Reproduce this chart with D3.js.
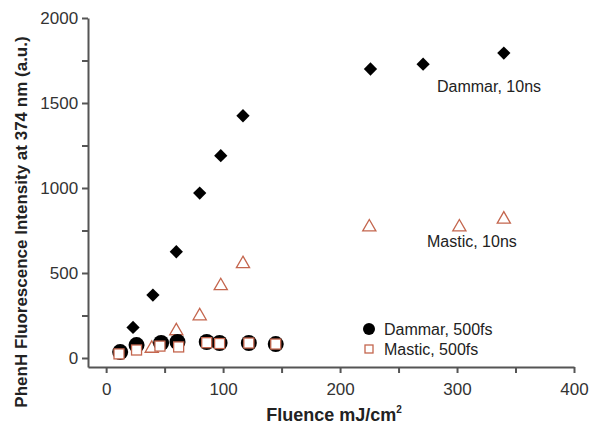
<!DOCTYPE html>
<html>
<head>
<meta charset="utf-8">
<script src="https://cdn.jsdelivr.net/npm/d3@7"></script>
<style>
body { margin: 0; background: #fff; }
text { font-family: "Liberation Sans", Arial, sans-serif; }
</style>
</head>
<body>
<div id="chart"></div>
<script>
// Data (fluence mJ/cm2, intensity a.u.)
const dammar10nsX = [23, 40, 60, 80, 98, 117, 226, 271, 340];
const dammar10nsY = [180, 370, 625, 970, 1190, 1425, 1700, 1728, 1794];
const mastic10nsX = [39, 60, 80, 98, 117, 225, 302, 340];
const mastic10nsY = [62, 165, 253, 430, 560, 776, 776, 822];
const dammar500X = [12, 26, 47, 61, 86, 97, 122, 145];
const dammar500Y = [35, 76, 88, 94, 94, 88, 88, 82];
const mastic500X = [11, 26, 46, 62, 86, 97, 122, 145];
const mastic500Y = [24, 47, 70, 65, 90, 85, 88, 82];
const xTicks = [0, 100, 200, 300, 400];
const yTicks = [0, 500, 1000, 1500, 2000];

const width = 590, height = 425;
const axisColor = "#555";
const redColor = "#c4664e";

const svg = d3.select("#chart")
  .append("svg")
  .attr("width", width)
  .attr("height", height);

const x = d3.scaleLinear().domain([-15.5, 400]).range([88, 574]);
const y = d3.scaleLinear().domain([-53, 2000]).range([367, 18]);

const zip = (xs, ys) => xs.map((v, i) => ({x: v, y: ys[i]}));

// Axes
const xAxis = svg.append("g")
  .attr("transform", `translate(0,${y(-53)})`)
  .call(d3.axisBottom(x).tickValues(d3.range(0, 401, 50)).tickSize(6).tickSizeOuter(0)
    .tickFormat(d => xTicks.includes(d) ? d : ""));
const yAxis = svg.append("g")
  .attr("transform", `translate(${x(-15.5)},0)`)
  .call(d3.axisLeft(y).tickValues(d3.range(0, 2001, 250)).tickSize(6).tickSizeOuter(0)
    .tickFormat(d => yTicks.includes(d) ? d : ""));

[xAxis, yAxis].forEach(g => {
  g.select(".domain").attr("stroke", axisColor).attr("stroke-width", 2);
  g.selectAll(".tick line").attr("stroke", axisColor).attr("stroke-width", 2);
  g.selectAll(".tick text")
    .attr("fill", "#333")
    .style("font-size", "17px")
    .style("font-family", "Liberation Sans, Arial, sans-serif");
});
xAxis.selectAll(".tick text").attr("dy", "1.1em");
yAxis.selectAll(".tick text").attr("dx", "-0.05em");

// Axis titles
svg.append("text")
  .attr("transform", `translate(27,222) rotate(-90)`)
  .attr("text-anchor", "middle")
  .style("font-size", "17px")
  .style("font-weight", "bold")
  .attr("fill", "#222")
  .text("PhenH Fluorescence Intensity at 374 nm (a.u.)");

const xt = svg.append("text")
  .attr("x", 334)
  .attr("y", 421)
  .attr("text-anchor", "middle")
  .style("font-size", "18px")
  .style("font-weight", "bold")
  .attr("fill", "#222");
xt.append("tspan").text("Fluence mJ/cm");
xt.append("tspan").attr("dy", -8).style("font-size", "10px").text("2");

// Markers
const square = d3.symbol().type(d3.symbolSquare).size(88);
const triangle = d3.symbol().type(d3.symbolTriangle).size(75);

svg.append("g").selectAll("path")
  .data(zip(dammar10nsX, dammar10nsY))
  .join("path")
  .attr("d", square)
  .attr("transform", d => `translate(${x(d.x)},${y(d.y)}) rotate(45)`)
  .attr("fill", "#000");

svg.append("g").selectAll("path")
  .data(zip(mastic10nsX, mastic10nsY))
  .join("path")
  .attr("d", triangle)
  .attr("transform", d => `translate(${x(d.x)},${y(d.y) + 1})`)
  .attr("fill", "none")
  .attr("stroke", redColor)
  .attr("stroke-width", 1.3);

svg.append("g").selectAll("circle")
  .data(zip(dammar500X, dammar500Y))
  .join("circle")
  .attr("cx", d => x(d.x))
  .attr("cy", d => y(d.y))
  .attr("r", 8)
  .attr("fill", "#000");

svg.append("g").selectAll("rect")
  .data(zip(mastic500X, mastic500Y))
  .join("rect")
  .attr("x", d => x(d.x) - 5)
  .attr("y", d => y(d.y) - 5)
  .attr("width", 10)
  .attr("height", 10)
  .attr("fill", "#fff")
  .attr("stroke", redColor)
  .attr("stroke-width", 1.3);

// Series labels
svg.append("text").attr("x", 437).attr("y", 92)
  .style("font-size", "16px").attr("fill", "#222").text("Dammar, 10ns");
svg.append("text").attr("x", 427).attr("y", 247)
  .style("font-size", "16px").attr("fill", "#222").text("Mastic, 10ns");

// Legend
svg.append("circle").attr("cx", 369).attr("cy", 329).attr("r", 6).attr("fill", "#000");
svg.append("text").attr("x", 384).attr("y", 335)
  .style("font-size", "16px").attr("fill", "#222").text("Dammar, 500fs");
svg.append("rect").attr("x", 365).attr("y", 345).attr("width", 8).attr("height", 8)
  .attr("fill", "#fff").attr("stroke", redColor).attr("stroke-width", 1.3);
svg.append("text").attr("x", 384).attr("y", 355)
  .style("font-size", "16px").attr("fill", "#222").text("Mastic, 500fs");
</script>
</body>
</html>
